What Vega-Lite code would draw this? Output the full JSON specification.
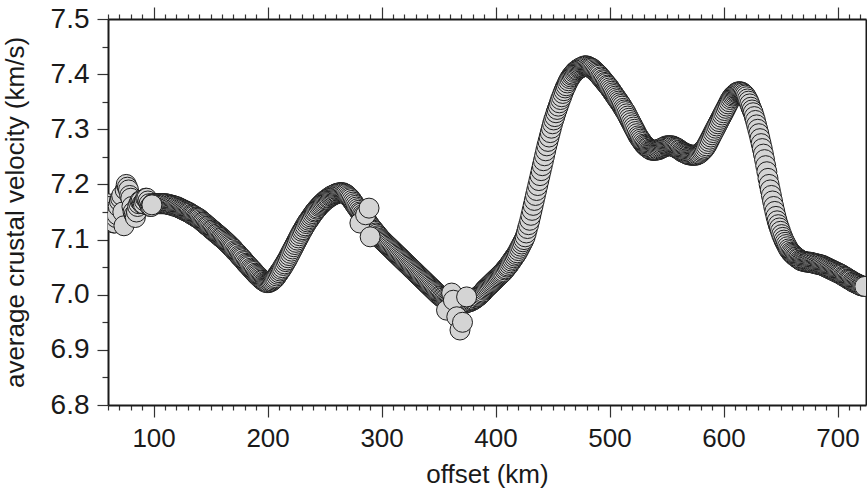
{
  "$schema": "https://vega.github.io/schema/vega-lite/v6.json",
  "width": 758,
  "height": 386,
  "autosize": {"type": "none"},
  "padding": {"left": 108, "top": 19, "right": 1, "bottom": 86},
  "background": "white",
  "config": {
    "view": {"stroke": null},
    "font": "Liberation Sans",
    "axis": {
      "grid": false,
      "labelFont": "Liberation Sans",
      "titleFont": "Liberation Sans",
      "labelFontSize": 26,
      "titleFontSize": 26,
      "titleFontWeight": "normal",
      "labelColor": "#1a1a1a",
      "titleColor": "#1a1a1a",
      "tickColor": "#333333",
      "tickWidth": 1.2,
      "domainColor": "#1a1a1a",
      "domainWidth": 2,
      "labelOverlap": false,
      "labelFlush": false,
      "zindex": 1
    }
  },
  "data": {
    "values": [
      {"km": 60, "vel": 7.165}, {"km": 61, "vel": 7.16}, {"km": 62, "vel": 7.15}, {"km": 63, "vel": 7.14},
      {"km": 64, "vel": 7.135}, {"km": 65, "vel": 7.13}, {"km": 66, "vel": 7.13}, {"km": 67, "vel": 7.14},
      {"km": 68, "vel": 7.145}, {"km": 69, "vel": 7.16}, {"km": 70, "vel": 7.17}, {"km": 71, "vel": 7.175},
      {"km": 72, "vel": 7.18}, {"km": 73, "vel": 7.15}, {"km": 74, "vel": 7.125}, {"km": 75, "vel": 7.19},
      {"km": 76, "vel": 7.2}, {"km": 77, "vel": 7.195}, {"km": 78, "vel": 7.19}, {"km": 79, "vel": 7.18},
      {"km": 80, "vel": 7.175}, {"km": 81, "vel": 7.16}, {"km": 82, "vel": 7.15}, {"km": 83, "vel": 7.145},
      {"km": 84, "vel": 7.14}, {"km": 85, "vel": 7.15}, {"km": 86, "vel": 7.16}, {"km": 87, "vel": 7.165},
      {"km": 88, "vel": 7.17}, {"km": 89, "vel": 7.17}, {"km": 90, "vel": 7.165}, {"km": 91, "vel": 7.165},
      {"km": 92, "vel": 7.17}, {"km": 93, "vel": 7.175}, {"km": 94, "vel": 7.175}, {"km": 95, "vel": 7.17},
      {"km": 96, "vel": 7.165}, {"km": 97, "vel": 7.16}, {"km": 98, "vel": 7.16}, {"km": 99, "vel": 7.165},
      {"km": 100, "vel": 7.165}, {"km": 101, "vel": 7.165}, {"km": 102, "vel": 7.165}, {"km": 103, "vel": 7.165},
      {"km": 104, "vel": 7.165}, {"km": 105, "vel": 7.165}, {"km": 106, "vel": 7.165}, {"km": 107, "vel": 7.165},
      {"km": 108, "vel": 7.165}, {"km": 109, "vel": 7.165}, {"km": 110, "vel": 7.165}, {"km": 111, "vel": 7.165},
      {"km": 112, "vel": 7.164}, {"km": 113, "vel": 7.164}, {"km": 114, "vel": 7.163}, {"km": 115, "vel": 7.163},
      {"km": 116, "vel": 7.162}, {"km": 117, "vel": 7.162}, {"km": 118, "vel": 7.161}, {"km": 119, "vel": 7.16},
      {"km": 120, "vel": 7.16}, {"km": 121, "vel": 7.159}, {"km": 122, "vel": 7.158}, {"km": 123, "vel": 7.157},
      {"km": 124, "vel": 7.156}, {"km": 125, "vel": 7.155}, {"km": 126, "vel": 7.154}, {"km": 127, "vel": 7.153},
      {"km": 128, "vel": 7.152}, {"km": 129, "vel": 7.151}, {"km": 130, "vel": 7.15}, {"km": 131, "vel": 7.149},
      {"km": 132, "vel": 7.148}, {"km": 133, "vel": 7.146}, {"km": 134, "vel": 7.145}, {"km": 135, "vel": 7.144},
      {"km": 136, "vel": 7.143}, {"km": 137, "vel": 7.141}, {"km": 138, "vel": 7.14}, {"km": 139, "vel": 7.139},
      {"km": 140, "vel": 7.138}, {"km": 141, "vel": 7.136}, {"km": 142, "vel": 7.134}, {"km": 143, "vel": 7.132},
      {"km": 144, "vel": 7.131}, {"km": 145, "vel": 7.129}, {"km": 146, "vel": 7.127}, {"km": 147, "vel": 7.125},
      {"km": 148, "vel": 7.124}, {"km": 149, "vel": 7.122}, {"km": 150, "vel": 7.12}, {"km": 151, "vel": 7.118},
      {"km": 152, "vel": 7.117}, {"km": 153, "vel": 7.115}, {"km": 154, "vel": 7.113}, {"km": 155, "vel": 7.111},
      {"km": 156, "vel": 7.11}, {"km": 157, "vel": 7.108}, {"km": 158, "vel": 7.106}, {"km": 159, "vel": 7.104},
      {"km": 160, "vel": 7.103}, {"km": 161, "vel": 7.101}, {"km": 162, "vel": 7.099}, {"km": 163, "vel": 7.097},
      {"km": 164, "vel": 7.095}, {"km": 165, "vel": 7.093}, {"km": 166, "vel": 7.091}, {"km": 167, "vel": 7.089},
      {"km": 168, "vel": 7.087}, {"km": 169, "vel": 7.085}, {"km": 170, "vel": 7.083}, {"km": 171, "vel": 7.08},
      {"km": 172, "vel": 7.078}, {"km": 173, "vel": 7.076}, {"km": 174, "vel": 7.074}, {"km": 175, "vel": 7.071},
      {"km": 176, "vel": 7.069}, {"km": 177, "vel": 7.067}, {"km": 178, "vel": 7.065}, {"km": 179, "vel": 7.062},
      {"km": 180, "vel": 7.06}, {"km": 181, "vel": 7.057}, {"km": 182, "vel": 7.055}, {"km": 183, "vel": 7.053},
      {"km": 184, "vel": 7.051}, {"km": 185, "vel": 7.048}, {"km": 186, "vel": 7.046}, {"km": 187, "vel": 7.044},
      {"km": 188, "vel": 7.042}, {"km": 189, "vel": 7.039}, {"km": 190, "vel": 7.037}, {"km": 191, "vel": 7.035},
      {"km": 192, "vel": 7.033}, {"km": 193, "vel": 7.031}, {"km": 194, "vel": 7.029}, {"km": 195, "vel": 7.027},
      {"km": 196, "vel": 7.026}, {"km": 197, "vel": 7.024}, {"km": 198, "vel": 7.023}, {"km": 199, "vel": 7.022},
      {"km": 200, "vel": 7.022}, {"km": 201, "vel": 7.022}, {"km": 202, "vel": 7.023}, {"km": 203, "vel": 7.024},
      {"km": 204, "vel": 7.025}, {"km": 205, "vel": 7.027}, {"km": 206, "vel": 7.029}, {"km": 207, "vel": 7.031},
      {"km": 208, "vel": 7.034}, {"km": 209, "vel": 7.037}, {"km": 210, "vel": 7.04}, {"km": 211, "vel": 7.043},
      {"km": 212, "vel": 7.046}, {"km": 213, "vel": 7.049}, {"km": 214, "vel": 7.053}, {"km": 215, "vel": 7.056},
      {"km": 216, "vel": 7.06}, {"km": 217, "vel": 7.063}, {"km": 218, "vel": 7.067}, {"km": 219, "vel": 7.071},
      {"km": 220, "vel": 7.075}, {"km": 221, "vel": 7.079}, {"km": 222, "vel": 7.083}, {"km": 223, "vel": 7.087},
      {"km": 224, "vel": 7.091}, {"km": 225, "vel": 7.095}, {"km": 226, "vel": 7.099}, {"km": 227, "vel": 7.103},
      {"km": 228, "vel": 7.107}, {"km": 229, "vel": 7.111}, {"km": 230, "vel": 7.115}, {"km": 231, "vel": 7.118},
      {"km": 232, "vel": 7.122}, {"km": 233, "vel": 7.125}, {"km": 234, "vel": 7.129}, {"km": 235, "vel": 7.132},
      {"km": 236, "vel": 7.135}, {"km": 237, "vel": 7.138}, {"km": 238, "vel": 7.141}, {"km": 239, "vel": 7.144},
      {"km": 240, "vel": 7.147}, {"km": 241, "vel": 7.15}, {"km": 242, "vel": 7.152}, {"km": 243, "vel": 7.155},
      {"km": 244, "vel": 7.157}, {"km": 245, "vel": 7.16}, {"km": 246, "vel": 7.162}, {"km": 247, "vel": 7.164},
      {"km": 248, "vel": 7.166}, {"km": 249, "vel": 7.168}, {"km": 250, "vel": 7.17}, {"km": 251, "vel": 7.172},
      {"km": 252, "vel": 7.173}, {"km": 253, "vel": 7.175}, {"km": 254, "vel": 7.176}, {"km": 255, "vel": 7.178},
      {"km": 256, "vel": 7.179}, {"km": 257, "vel": 7.18}, {"km": 258, "vel": 7.181}, {"km": 259, "vel": 7.182},
      {"km": 260, "vel": 7.183}, {"km": 261, "vel": 7.184}, {"km": 262, "vel": 7.184}, {"km": 263, "vel": 7.185},
      {"km": 264, "vel": 7.185}, {"km": 265, "vel": 7.185}, {"km": 266, "vel": 7.185}, {"km": 267, "vel": 7.184},
      {"km": 268, "vel": 7.183}, {"km": 269, "vel": 7.182}, {"km": 270, "vel": 7.18}, {"km": 271, "vel": 7.178},
      {"km": 272, "vel": 7.176}, {"km": 273, "vel": 7.174}, {"km": 274, "vel": 7.171}, {"km": 275, "vel": 7.168},
      {"km": 276, "vel": 7.165}, {"km": 277, "vel": 7.162}, {"km": 278, "vel": 7.159}, {"km": 279, "vel": 7.156},
      {"km": 280, "vel": 7.153}, {"km": 281, "vel": 7.15}, {"km": 282, "vel": 7.148}, {"km": 283, "vel": 7.145},
      {"km": 284, "vel": 7.143}, {"km": 285, "vel": 7.14}, {"km": 286, "vel": 7.137}, {"km": 287, "vel": 7.134},
      {"km": 288, "vel": 7.131}, {"km": 289, "vel": 7.128}, {"km": 290, "vel": 7.125}, {"km": 291, "vel": 7.122},
      {"km": 292, "vel": 7.12}, {"km": 293, "vel": 7.117}, {"km": 294, "vel": 7.115}, {"km": 295, "vel": 7.112},
      {"km": 296, "vel": 7.11}, {"km": 297, "vel": 7.107}, {"km": 298, "vel": 7.105}, {"km": 299, "vel": 7.102},
      {"km": 300, "vel": 7.1}, {"km": 301, "vel": 7.098}, {"km": 302, "vel": 7.096}, {"km": 303, "vel": 7.094},
      {"km": 304, "vel": 7.092}, {"km": 305, "vel": 7.09}, {"km": 306, "vel": 7.088}, {"km": 307, "vel": 7.086},
      {"km": 308, "vel": 7.084}, {"km": 309, "vel": 7.082}, {"km": 310, "vel": 7.08}, {"km": 311, "vel": 7.078},
      {"km": 312, "vel": 7.076}, {"km": 313, "vel": 7.074}, {"km": 314, "vel": 7.072}, {"km": 315, "vel": 7.07},
      {"km": 316, "vel": 7.068}, {"km": 317, "vel": 7.066}, {"km": 318, "vel": 7.064}, {"km": 319, "vel": 7.062},
      {"km": 320, "vel": 7.06}, {"km": 321, "vel": 7.058}, {"km": 322, "vel": 7.056}, {"km": 323, "vel": 7.054},
      {"km": 324, "vel": 7.052}, {"km": 325, "vel": 7.05}, {"km": 326, "vel": 7.048}, {"km": 327, "vel": 7.046},
      {"km": 328, "vel": 7.044}, {"km": 329, "vel": 7.042}, {"km": 330, "vel": 7.04}, {"km": 331, "vel": 7.038},
      {"km": 332, "vel": 7.036}, {"km": 333, "vel": 7.034}, {"km": 334, "vel": 7.032}, {"km": 335, "vel": 7.03},
      {"km": 336, "vel": 7.028}, {"km": 337, "vel": 7.026}, {"km": 338, "vel": 7.024}, {"km": 339, "vel": 7.022},
      {"km": 340, "vel": 7.02}, {"km": 341, "vel": 7.018}, {"km": 342, "vel": 7.016}, {"km": 343, "vel": 7.014},
      {"km": 344, "vel": 7.012}, {"km": 345, "vel": 7.01}, {"km": 346, "vel": 7.008}, {"km": 347, "vel": 7.006},
      {"km": 348, "vel": 7.004}, {"km": 349, "vel": 7.002}, {"km": 350, "vel": 7.0}, {"km": 351, "vel": 6.998},
      {"km": 352, "vel": 6.997}, {"km": 353, "vel": 6.995}, {"km": 354, "vel": 6.994}, {"km": 355, "vel": 6.992},
      {"km": 356, "vel": 6.991}, {"km": 357, "vel": 6.989}, {"km": 358, "vel": 6.988}, {"km": 359, "vel": 6.987},
      {"km": 360, "vel": 6.986}, {"km": 361, "vel": 6.985}, {"km": 362, "vel": 6.984}, {"km": 363, "vel": 6.983},
      {"km": 364, "vel": 6.983}, {"km": 365, "vel": 6.982}, {"km": 366, "vel": 6.982}, {"km": 367, "vel": 6.982},
      {"km": 368, "vel": 6.982}, {"km": 369, "vel": 6.982}, {"km": 370, "vel": 6.983}, {"km": 371, "vel": 6.983},
      {"km": 372, "vel": 6.984}, {"km": 373, "vel": 6.984}, {"km": 374, "vel": 6.985}, {"km": 375, "vel": 6.986},
      {"km": 376, "vel": 6.987}, {"km": 377, "vel": 6.987}, {"km": 378, "vel": 6.988}, {"km": 379, "vel": 6.989},
      {"km": 380, "vel": 6.99}, {"km": 381, "vel": 6.991}, {"km": 382, "vel": 6.993}, {"km": 383, "vel": 6.994},
      {"km": 384, "vel": 6.996}, {"km": 385, "vel": 6.997}, {"km": 386, "vel": 6.999}, {"km": 387, "vel": 7.001},
      {"km": 388, "vel": 7.003}, {"km": 389, "vel": 7.005}, {"km": 390, "vel": 7.008}, {"km": 391, "vel": 7.01},
      {"km": 392, "vel": 7.012}, {"km": 393, "vel": 7.014}, {"km": 394, "vel": 7.016}, {"km": 395, "vel": 7.018},
      {"km": 396, "vel": 7.02}, {"km": 397, "vel": 7.022}, {"km": 398, "vel": 7.024}, {"km": 399, "vel": 7.026},
      {"km": 400, "vel": 7.028}, {"km": 401, "vel": 7.03}, {"km": 402, "vel": 7.032}, {"km": 403, "vel": 7.034},
      {"km": 404, "vel": 7.036}, {"km": 405, "vel": 7.038}, {"km": 406, "vel": 7.04}, {"km": 407, "vel": 7.042},
      {"km": 408, "vel": 7.045}, {"km": 409, "vel": 7.047}, {"km": 410, "vel": 7.05}, {"km": 411, "vel": 7.052},
      {"km": 412, "vel": 7.055}, {"km": 413, "vel": 7.058}, {"km": 414, "vel": 7.061}, {"km": 415, "vel": 7.064},
      {"km": 416, "vel": 7.067}, {"km": 417, "vel": 7.07}, {"km": 418, "vel": 7.073}, {"km": 419, "vel": 7.076},
      {"km": 420, "vel": 7.08}, {"km": 421, "vel": 7.084}, {"km": 422, "vel": 7.088}, {"km": 423, "vel": 7.092},
      {"km": 424, "vel": 7.096}, {"km": 425, "vel": 7.1}, {"km": 426, "vel": 7.105}, {"km": 427, "vel": 7.112},
      {"km": 428, "vel": 7.12}, {"km": 429, "vel": 7.127}, {"km": 430, "vel": 7.135}, {"km": 431, "vel": 7.144},
      {"km": 432, "vel": 7.153}, {"km": 433, "vel": 7.162}, {"km": 434, "vel": 7.171}, {"km": 435, "vel": 7.18},
      {"km": 436, "vel": 7.189}, {"km": 437, "vel": 7.198}, {"km": 438, "vel": 7.207}, {"km": 439, "vel": 7.216},
      {"km": 440, "vel": 7.225}, {"km": 441, "vel": 7.234}, {"km": 442, "vel": 7.243}, {"km": 443, "vel": 7.252},
      {"km": 444, "vel": 7.261}, {"km": 445, "vel": 7.27}, {"km": 446, "vel": 7.278}, {"km": 447, "vel": 7.286},
      {"km": 448, "vel": 7.294}, {"km": 449, "vel": 7.302}, {"km": 450, "vel": 7.31}, {"km": 451, "vel": 7.317},
      {"km": 452, "vel": 7.323}, {"km": 453, "vel": 7.33}, {"km": 454, "vel": 7.336}, {"km": 455, "vel": 7.342},
      {"km": 456, "vel": 7.348}, {"km": 457, "vel": 7.354}, {"km": 458, "vel": 7.359}, {"km": 459, "vel": 7.365},
      {"km": 460, "vel": 7.37}, {"km": 461, "vel": 7.375}, {"km": 462, "vel": 7.379}, {"km": 463, "vel": 7.384},
      {"km": 464, "vel": 7.388}, {"km": 465, "vel": 7.392}, {"km": 466, "vel": 7.395}, {"km": 467, "vel": 7.398},
      {"km": 468, "vel": 7.4}, {"km": 469, "vel": 7.403}, {"km": 470, "vel": 7.405}, {"km": 471, "vel": 7.407},
      {"km": 472, "vel": 7.408}, {"km": 473, "vel": 7.41}, {"km": 474, "vel": 7.411}, {"km": 475, "vel": 7.412},
      {"km": 476, "vel": 7.413}, {"km": 477, "vel": 7.414}, {"km": 478, "vel": 7.415}, {"km": 479, "vel": 7.415},
      {"km": 480, "vel": 7.415}, {"km": 481, "vel": 7.414}, {"km": 482, "vel": 7.413}, {"km": 483, "vel": 7.412},
      {"km": 484, "vel": 7.411}, {"km": 485, "vel": 7.41}, {"km": 486, "vel": 7.408}, {"km": 487, "vel": 7.406},
      {"km": 488, "vel": 7.404}, {"km": 489, "vel": 7.402}, {"km": 490, "vel": 7.4}, {"km": 491, "vel": 7.398},
      {"km": 492, "vel": 7.395}, {"km": 493, "vel": 7.393}, {"km": 494, "vel": 7.39}, {"km": 495, "vel": 7.388},
      {"km": 496, "vel": 7.385}, {"km": 497, "vel": 7.383}, {"km": 498, "vel": 7.38}, {"km": 499, "vel": 7.378},
      {"km": 500, "vel": 7.375}, {"km": 501, "vel": 7.372}, {"km": 502, "vel": 7.369}, {"km": 503, "vel": 7.366},
      {"km": 504, "vel": 7.363}, {"km": 505, "vel": 7.36}, {"km": 506, "vel": 7.357}, {"km": 507, "vel": 7.354},
      {"km": 508, "vel": 7.351}, {"km": 509, "vel": 7.348}, {"km": 510, "vel": 7.345}, {"km": 511, "vel": 7.342},
      {"km": 512, "vel": 7.338}, {"km": 513, "vel": 7.335}, {"km": 514, "vel": 7.332}, {"km": 515, "vel": 7.328},
      {"km": 516, "vel": 7.324}, {"km": 517, "vel": 7.32}, {"km": 518, "vel": 7.316}, {"km": 519, "vel": 7.312},
      {"km": 520, "vel": 7.308}, {"km": 521, "vel": 7.304}, {"km": 522, "vel": 7.3}, {"km": 523, "vel": 7.296},
      {"km": 524, "vel": 7.292}, {"km": 525, "vel": 7.288}, {"km": 526, "vel": 7.285}, {"km": 527, "vel": 7.282},
      {"km": 528, "vel": 7.279}, {"km": 529, "vel": 7.276}, {"km": 530, "vel": 7.273}, {"km": 531, "vel": 7.271},
      {"km": 532, "vel": 7.269}, {"km": 533, "vel": 7.267}, {"km": 534, "vel": 7.266}, {"km": 535, "vel": 7.264},
      {"km": 536, "vel": 7.263}, {"km": 537, "vel": 7.262}, {"km": 538, "vel": 7.262}, {"km": 539, "vel": 7.262},
      {"km": 540, "vel": 7.262}, {"km": 541, "vel": 7.262}, {"km": 542, "vel": 7.263}, {"km": 543, "vel": 7.263},
      {"km": 544, "vel": 7.264}, {"km": 545, "vel": 7.265}, {"km": 546, "vel": 7.266}, {"km": 547, "vel": 7.267},
      {"km": 548, "vel": 7.268}, {"km": 549, "vel": 7.269}, {"km": 550, "vel": 7.27}, {"km": 551, "vel": 7.27},
      {"km": 552, "vel": 7.27}, {"km": 553, "vel": 7.27}, {"km": 554, "vel": 7.27}, {"km": 555, "vel": 7.27},
      {"km": 556, "vel": 7.269}, {"km": 557, "vel": 7.268}, {"km": 558, "vel": 7.267}, {"km": 559, "vel": 7.266},
      {"km": 560, "vel": 7.265}, {"km": 561, "vel": 7.263}, {"km": 562, "vel": 7.262}, {"km": 563, "vel": 7.26},
      {"km": 564, "vel": 7.259}, {"km": 565, "vel": 7.258}, {"km": 566, "vel": 7.257}, {"km": 567, "vel": 7.256},
      {"km": 568, "vel": 7.255}, {"km": 569, "vel": 7.254}, {"km": 570, "vel": 7.254}, {"km": 571, "vel": 7.253},
      {"km": 572, "vel": 7.253}, {"km": 573, "vel": 7.253}, {"km": 574, "vel": 7.253}, {"km": 575, "vel": 7.253},
      {"km": 576, "vel": 7.253}, {"km": 577, "vel": 7.254}, {"km": 578, "vel": 7.255}, {"km": 579, "vel": 7.256},
      {"km": 580, "vel": 7.258}, {"km": 581, "vel": 7.26}, {"km": 582, "vel": 7.262}, {"km": 583, "vel": 7.264},
      {"km": 584, "vel": 7.267}, {"km": 585, "vel": 7.27}, {"km": 586, "vel": 7.274}, {"km": 587, "vel": 7.278},
      {"km": 588, "vel": 7.282}, {"km": 589, "vel": 7.286}, {"km": 590, "vel": 7.29}, {"km": 591, "vel": 7.294},
      {"km": 592, "vel": 7.298}, {"km": 593, "vel": 7.302}, {"km": 594, "vel": 7.306}, {"km": 595, "vel": 7.31},
      {"km": 596, "vel": 7.314}, {"km": 597, "vel": 7.318}, {"km": 598, "vel": 7.322}, {"km": 599, "vel": 7.326},
      {"km": 600, "vel": 7.33}, {"km": 601, "vel": 7.334}, {"km": 602, "vel": 7.338}, {"km": 603, "vel": 7.342},
      {"km": 604, "vel": 7.346}, {"km": 605, "vel": 7.35}, {"km": 606, "vel": 7.354}, {"km": 607, "vel": 7.357},
      {"km": 608, "vel": 7.36}, {"km": 609, "vel": 7.362}, {"km": 610, "vel": 7.364}, {"km": 611, "vel": 7.366},
      {"km": 612, "vel": 7.367}, {"km": 613, "vel": 7.368}, {"km": 614, "vel": 7.368}, {"km": 615, "vel": 7.368},
      {"km": 616, "vel": 7.367}, {"km": 617, "vel": 7.366}, {"km": 618, "vel": 7.364}, {"km": 619, "vel": 7.362},
      {"km": 620, "vel": 7.359}, {"km": 621, "vel": 7.355}, {"km": 622, "vel": 7.351}, {"km": 623, "vel": 7.346},
      {"km": 624, "vel": 7.34}, {"km": 625, "vel": 7.335}, {"km": 626, "vel": 7.33}, {"km": 627, "vel": 7.323},
      {"km": 628, "vel": 7.316}, {"km": 629, "vel": 7.308}, {"km": 630, "vel": 7.3}, {"km": 631, "vel": 7.292},
      {"km": 632, "vel": 7.283}, {"km": 633, "vel": 7.274}, {"km": 634, "vel": 7.265}, {"km": 635, "vel": 7.255},
      {"km": 636, "vel": 7.245}, {"km": 637, "vel": 7.234}, {"km": 638, "vel": 7.223}, {"km": 639, "vel": 7.211},
      {"km": 640, "vel": 7.2}, {"km": 641, "vel": 7.19}, {"km": 642, "vel": 7.18}, {"km": 643, "vel": 7.17},
      {"km": 644, "vel": 7.16}, {"km": 645, "vel": 7.151}, {"km": 646, "vel": 7.142}, {"km": 647, "vel": 7.134},
      {"km": 648, "vel": 7.127}, {"km": 649, "vel": 7.121}, {"km": 650, "vel": 7.115}, {"km": 651, "vel": 7.109},
      {"km": 652, "vel": 7.104}, {"km": 653, "vel": 7.099}, {"km": 654, "vel": 7.095}, {"km": 655, "vel": 7.091},
      {"km": 656, "vel": 7.087}, {"km": 657, "vel": 7.083}, {"km": 658, "vel": 7.08}, {"km": 659, "vel": 7.077},
      {"km": 660, "vel": 7.075}, {"km": 661, "vel": 7.073}, {"km": 662, "vel": 7.071}, {"km": 663, "vel": 7.069},
      {"km": 664, "vel": 7.068}, {"km": 665, "vel": 7.066}, {"km": 666, "vel": 7.065}, {"km": 667, "vel": 7.063},
      {"km": 668, "vel": 7.062}, {"km": 669, "vel": 7.061}, {"km": 670, "vel": 7.061}, {"km": 671, "vel": 7.06},
      {"km": 672, "vel": 7.06}, {"km": 673, "vel": 7.059}, {"km": 674, "vel": 7.059}, {"km": 675, "vel": 7.059},
      {"km": 676, "vel": 7.059}, {"km": 677, "vel": 7.058}, {"km": 678, "vel": 7.058}, {"km": 679, "vel": 7.057},
      {"km": 680, "vel": 7.057}, {"km": 681, "vel": 7.056}, {"km": 682, "vel": 7.056}, {"km": 683, "vel": 7.055},
      {"km": 684, "vel": 7.055}, {"km": 685, "vel": 7.054}, {"km": 686, "vel": 7.054}, {"km": 687, "vel": 7.053},
      {"km": 688, "vel": 7.052}, {"km": 689, "vel": 7.051}, {"km": 690, "vel": 7.05}, {"km": 691, "vel": 7.049},
      {"km": 692, "vel": 7.048}, {"km": 693, "vel": 7.047}, {"km": 694, "vel": 7.046}, {"km": 695, "vel": 7.045},
      {"km": 696, "vel": 7.044}, {"km": 697, "vel": 7.043}, {"km": 698, "vel": 7.042}, {"km": 699, "vel": 7.041},
      {"km": 700, "vel": 7.04}, {"km": 701, "vel": 7.039}, {"km": 702, "vel": 7.038}, {"km": 703, "vel": 7.037},
      {"km": 704, "vel": 7.036}, {"km": 705, "vel": 7.034}, {"km": 706, "vel": 7.033}, {"km": 707, "vel": 7.032},
      {"km": 708, "vel": 7.031}, {"km": 709, "vel": 7.029}, {"km": 710, "vel": 7.028}, {"km": 711, "vel": 7.027},
      {"km": 712, "vel": 7.026}, {"km": 713, "vel": 7.024}, {"km": 714, "vel": 7.023}, {"km": 715, "vel": 7.022},
      {"km": 716, "vel": 7.021}, {"km": 717, "vel": 7.02}, {"km": 718, "vel": 7.019}, {"km": 719, "vel": 7.018},
      {"km": 720, "vel": 7.017}, {"km": 721, "vel": 7.016}, {"km": 722, "vel": 7.016}, {"km": 723, "vel": 7.015},
      {"km": 724, "vel": 7.015},
      {"km": 98.5, "vel": 7.163},
      {"km": 281, "vel": 7.13}, {"km": 286, "vel": 7.145}, {"km": 289, "vel": 7.157}, {"km": 290, "vel": 7.105},
      {"km": 357, "vel": 6.972}, {"km": 361.5, "vel": 7.003}, {"km": 363, "vel": 6.99}, {"km": 366, "vel": 6.96},
      {"km": 368.8, "vel": 6.936}, {"km": 371, "vel": 6.95}, {"km": 374.6, "vel": 6.996}
    ]
  },
  "layer": [
    {
      "mark": {
        "type": "point",
        "shape": "circle",
        "filled": true,
        "size": 400,
        "fill": "#d4d4d4",
        "stroke": "#1e1e1e",
        "strokeWidth": 1,
        "opacity": 1,
        "fillOpacity": 1,
        "strokeOpacity": 1,
        "clip": true
      },
      "encoding": {
        "x": {
          "field": "km",
          "type": "quantitative",
          "scale": {"domain": [60, 725], "nice": false, "zero": false},
          "axis": {
            "orient": "bottom",
            "title": "offset (km)",
            "values": [60, 70, 80, 90, 100, 110, 120, 130, 140, 150, 160, 170, 180, 190, 200, 210, 220, 230, 240, 250, 260, 270, 280, 290, 300, 310, 320, 330, 340, 350, 360, 370, 380, 390, 400, 410, 420, 430, 440, 450, 460, 470, 480, 490, 500, 510, 520, 530, 540, 550, 560, 570, 580, 590, 600, 610, 620, 630, 640, 650, 660, 670, 680, 690, 700, 710, 720],
            "format": "d",
            "labelExpr": "datum.value % 100 == 0 ? datum.label : ''",
            "tickSize": {"condition": {"test": "datum.value % 100 == 0", "value": 12}, "value": 5},
            "labelPadding": 8,
            "titlePadding": 10,
            "domain": true
          }
        },
        "y": {
          "field": "vel",
          "type": "quantitative",
          "scale": {"domain": [6.8, 7.5], "nice": false, "zero": false},
          "axis": {
            "orient": "left",
            "title": "average crustal velocity (km/s)",
            "values": [6.8, 6.85, 6.9, 6.95, 7.0, 7.05, 7.1, 7.15, 7.2, 7.25, 7.3, 7.35, 7.4, 7.45, 7.5],
            "labelExpr": "abs(round(datum.value * 10) - datum.value * 10) < 0.001 ? format(datum.value, '.1f') : ''",
            "tickSize": {"condition": {"test": "abs(round(datum.value * 10) - datum.value * 10) < 0.001", "value": 11}, "value": 6},
            "labelFontSize": 28,
            "labelPadding": 8,
            "titlePadding": 22,
            "domain": true
          }
        }
      }
    },
    {
      "mark": {"type": "point", "opacity": 0},
      "encoding": {
        "x": {
          "field": "km",
          "type": "quantitative",
          "scale": {"domain": [60, 725], "nice": false, "zero": false},
          "axis": {
            "orient": "top",
            "title": null,
            "labels": false,
            "values": [60, 70, 80, 90, 100, 110, 120, 130, 140, 150, 160, 170, 180, 190, 200, 210, 220, 230, 240, 250, 260, 270, 280, 290, 300, 310, 320, 330, 340, 350, 360, 370, 380, 390, 400, 410, 420, 430, 440, 450, 460, 470, 480, 490, 500, 510, 520, 530, 540, 550, 560, 570, 580, 590, 600, 610, 620, 630, 640, 650, 660, 670, 680, 690, 700, 710, 720],
            "tickSize": {"condition": {"test": "datum.value % 100 == 0", "value": 12}, "value": 5},
            "domain": true
          }
        },
        "y": {
          "field": "vel",
          "type": "quantitative",
          "scale": {"domain": [6.8, 7.5], "nice": false, "zero": false},
          "axis": {
            "orient": "right",
            "title": null,
            "labels": false,
            "ticks": false,
            "domain": true
          }
        }
      }
    }
  ],
  "resolve": {"axis": {"x": "independent", "y": "independent"}}
}
